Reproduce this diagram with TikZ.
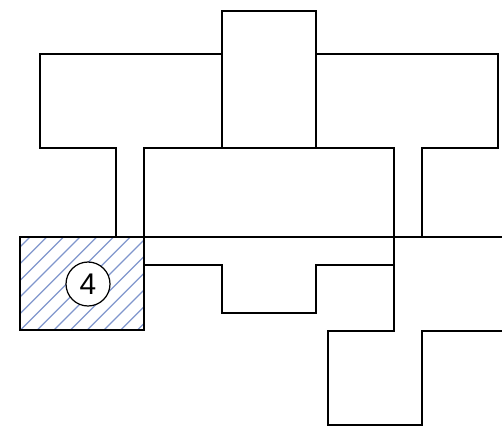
\documentclass[tikz,border=0pt]{standalone}
\usepackage{fontspec}
\setmainfont{Liberation Sans}
\usepackage{xcolor}
\definecolor{hatchblue}{RGB}{128,150,204}

\begin{document}
\begin{tikzpicture}[x=0.02cm,y=-0.02cm]
    \useasboundingbox (0,0) rectangle (502,426);
    % hatched room
    \begin{scope}
        \clip (20,237) rectangle (144,330);
        \foreach \k in {0,...,13}
            \draw[hatchblue,line width=0.7pt] (\k*16.7-80,347) -- ++(120,-120);
    \end{scope}
    \draw[line width=1.1pt] (20,237) rectangle (144,330);
    \node[circle,draw,fill=white,line width=0.7pt,minimum size=0.88cm,inner sep=0pt,font=\fontsize{17}{20}\selectfont] (r4) at (88,284) {4};
    % walls
    \draw[line width=1.1pt] (222,148)--(222,11)--(316,11)--(316,148);
    \draw[line width=1.1pt] (222,54)--(40,54)--(40,148)--(116,148)--(116,237);
    \draw[line width=1.1pt] (316,54)--(498,54)--(498,148)--(422,148)--(422,237);
    \draw[line width=1.1pt] (144,237)--(144,148)--(394,148)--(394,331)--(328,331)--(328,425)--(422,425)--(422,331)--(502,331);
    \draw[line width=1.1pt] (20,237)--(502,237);
    \draw[line width=1.1pt] (144,265)--(222,265)--(222,313)--(316,313)--(316,265)--(394,265);
\end{tikzpicture}
\end{document}
